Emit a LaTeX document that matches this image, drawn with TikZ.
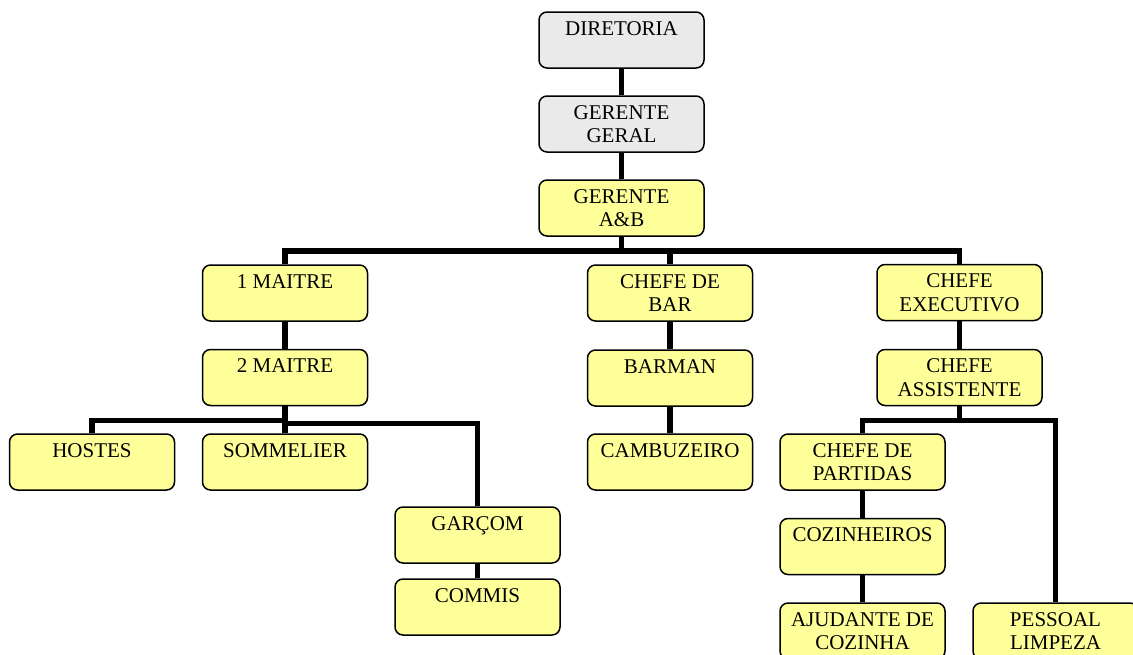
\documentclass[tikz,border=0pt]{standalone}
\usepackage{fontspec}
\setmainfont{Liberation Serif}
\usepackage{xcolor}
\usepackage{tikz}
\usetikzlibrary{positioning, calc}
\definecolor{boxyellow}{RGB}{255, 255, 153}
\definecolor{boxgrey}{RGB}{234, 234, 234}
\tikzstyle{yellowbox} = [rectangle, rounded corners=8pt, minimum width=165pt, minimum height=56pt, text centered, align=center, draw=black, line width=1.5pt, fill=boxyellow, font=\fontsize{21}{23.5}\selectfont, inner sep=2pt]
\tikzstyle{greybox} = [yellowbox, fill=boxgrey]
\tikzstyle{link} = [line width=5.5pt, draw=black]

\begin{document}
\begin{tikzpicture}[x=1pt, y=-1pt]
    \clip (0,0) rectangle (1133,654);

    % Top of the chart
    \node[greybox] (dir) at (621.5, 40) {DIRETORIA\\ \mbox{}};
    \node[greybox] (gg) at (621.5, 124) {GERENTE\\GERAL};
    \node[yellowbox] (ab) at (621.5, 208) {GERENTE\\A\&B};

    % Salon
    \node[yellowbox] (m1) at (285, 293) {1 MAITRE\\ \mbox{}};
    \node[yellowbox] (m2) at (285, 377.5) {2 MAITRE\\ \mbox{}};
    \node[yellowbox] (hostes) at (92, 462) {HOSTES\\ \mbox{}};
    \node[yellowbox] (somm) at (285, 462) {SOMMELIER\\ \mbox{}};
    \node[yellowbox] (garcom) at (477.5, 535) {GARÇOM\\ \mbox{}};
    \node[yellowbox] (commis) at (477.5, 607) {COMMIS\\ \mbox{}};

    % Bar
    \node[yellowbox] (cbar) at (670, 293) {CHEFE DE\\BAR};
    \node[yellowbox] (barman) at (670, 378) {BARMAN\\ \mbox{}};
    \node[yellowbox] (cambu) at (670, 462) {CAMBUZEIRO\\ \mbox{}};

    % Kitchen
    \node[yellowbox] (cexec) at (959.5, 292.5) {CHEFE\\EXECUTIVO};
    \node[yellowbox] (cassist) at (959.5, 377.5) {CHEFE\\ASSISTENTE};
    \node[yellowbox] (cpart) at (862.5, 462) {CHEFE DE\\PARTIDAS};
    \node[yellowbox] (cozin) at (862.5, 546.5) {COZINHEIROS\\ \mbox{}};
    \node[yellowbox] (ajud) at (862.5, 631) {AJUDANTE DE\\COZINHA};
    \node[yellowbox] (pessoal) at (1055.5, 631) {PESSOAL\\LIMPEZA};

    % Links
    \draw[link] (dir) -- (gg);
    \draw[link] (gg) -- (ab);
    \draw[link] (ab.south) -- ++(0,14) -| (m1.north);
    \draw[link] (ab.south) -- ++(0,14) -| (cbar.north);
    \draw[link] (ab.south) -- ++(0,14) -| (cexec.north);

    \draw[link] (m1) -- (m2);
    \draw[link] (m2) -- (somm);
    \draw[link] (m2.south) -- ++(0,14) -| (hostes.north);
    \draw[link] (m2.south) -- ++(0,17) -| (garcom.north);
    \draw[link] (garcom) -- (commis);

    \draw[link] (cbar) -- (barman);
    \draw[link] (barman) -- (cambu);

    \draw[link] (cexec) -- (cassist);
    \draw[link] (cassist.south) -- ++(0,14) -| (cpart.north);
    \draw[link] (cassist.south) -- ++(0,14) -| (pessoal.north);
    \draw[link] (cpart) -- (cozin);
    \draw[link] (cozin) -- (ajud);
\end{tikzpicture}
\end{document}
